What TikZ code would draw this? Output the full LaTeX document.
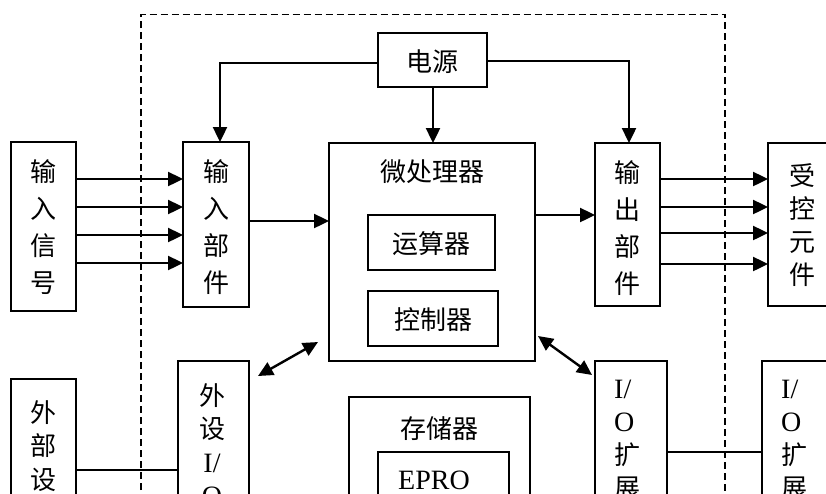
\documentclass[tikz,border=0pt]{standalone}
\usepackage{fontspec}
\setmainfont{Liberation Serif}
\newfontfamily\cjk{Noto Sans CJK SC}
\usetikzlibrary{arrows.meta,fit}
\newcommand\lat[1]{{\rmfamily\fontsize{28}{30}\selectfont #1}}
\newcommand\vtxt[6][center]{%
  \foreach \c [count=\i] in {#6}
    \node[txt,anchor=#1] (#2-\i) at ({#3},{#4+(\i-1)*#5}) {\c};}
\tikzset{
  bx/.style={draw,line width=1.8pt,inner sep=0pt,outer sep=0pt},
  txt/.style={inner sep=0pt,text height=23pt,text depth=3pt,font=\cjk\fontsize{26}{30}\selectfont},
  arr/.style={line width=2.4pt,-{Triangle[length=15pt,width=14pt]}},
  darr/.style={line width=2.4pt,{Triangle[length=15pt,width=14pt]}-{Triangle[length=15pt,width=14pt]}},
  thinln/.style={line width=1.6pt},
  dashline/.style={line width=1.7pt,dash pattern=on 7pt off 4pt}
}
\begin{document}
\begin{tikzpicture}[x=1pt,y=-1pt]
\useasboundingbox (0,0) rectangle (826,493);
\clip (0,0) rectangle (826,493);
\fill[white] (0,0) rectangle (826,493);
% dashed boundary
\coordinate (d1) at (141,600);
\coordinate (d2) at (141,14.5);
\coordinate (d3) at (725,14.5);
\coordinate (d4) at (725,600);
\draw[dashline] (d1) -- (d2) -- (d3) -- (d4);
% boxes
\node[bx,fit={(378,33) (487,87)}] (pw) {};
\node[bx,fit={(11,142) (76,311)}] (inS) {};
\node[bx,fit={(183,142) (249,307)}] (inP) {};
\node[bx,fit={(329,143) (535,361)}] (cpu) {};
\node[bx,fit={(368,215) (495,270)}] (alu) {};
\node[bx,fit={(368,291) (498,346)}] (ctl) {};
\node[bx,fit={(595,143) (660,306)}] (outP) {};
\node[bx,fit={(768,143) (840,306)}] (ctrlE) {};
\node[bx,fit={(11,379) (76,560)}] (ext) {};
\node[bx,fit={(178,361) (249,560)}] (extIO) {};
\node[bx,fit={(349,397) (530,580)}] (mem) {};
\node[bx,fit={(378,452) (509,560)}] (epro) {};
\node[bx,fit={(595,361) (667,560)}] (io1) {};
\node[bx,fit={(762,361) (840,560)}] (io2) {};
% texts
\node[txt] (pwt) at (432.5,61) {电源};
\node[txt] (cput) at (432,171) {微处理器};
\node[txt] (alut) at (431.5,243) {运算器};
\node[txt] (ctlt) at (433,319) {控制器};
\node[txt] (memt) at (439,428) {存储器};
\node[txt] (eprot) at (434,479) {\lat{EPRO}};
\vtxt{inSt}{43.5}{171}{37}{输,入,信,号}
\vtxt{inPt}{216.5}{171}{37}{输,入,部,件}
\vtxt{outPt}{627.5}{172}{37}{输,出,部,件}
\vtxt{ctrlEt}{802}{175}{33.3}{受,控,元,件}
\vtxt{extt}{43.5}{412}{33.5}{外,部,设}
\vtxt{extIOt}{212}{395}{33.5}{外,设,{\lat{I/}},{\lat{O}}}
\vtxt[west]{io1t}{614}{388}{33}{{\lat{I/}},{\lat{O}},扩,展}
\vtxt[west]{io2t}{781}{388}{33}{{\lat{I/}},{\lat{O}},扩,展}
% power lines
\draw[arr] (pw.west |- 0,63) -| (inP.north -| 220,0);
\draw[arr] (pw.south -| 433,0) -- (cpu.north -| 433,0);
\draw[arr] (pw.east |- 0,61) -| (outP.north -| 629,0);
% input signals
\foreach \y in {179,207,235,263}
  \draw[arr] (inS.east |- 0,\y) -- (inP.west |- 0,\y);
\draw[arr] (inP.east |- 0,221) -- (cpu.west |- 0,221);
\draw[arr] (cpu.east |- 0,215) -- (outP.west |- 0,215);
\foreach \y in {179,207,233,264}
  \draw[arr] (outP.east |- 0,\y) -- (ctrlE.west |- 0,\y);
% double arrows
\coordinate (a1) at (258,376);
\coordinate (a2) at (318,342);
\draw[darr] (a1) -- (a2);
\coordinate (b1) at (538,336);
\coordinate (b2) at (592,375);
\draw[darr] (b1) -- (b2);
% thin links
\draw[thinln] (ext.east |- 0,470) -- (extIO.west |- 0,470);
\draw[thinln] (io1.east |- 0,452) -- (io2.west |- 0,452);
\end{tikzpicture}
\end{document}
